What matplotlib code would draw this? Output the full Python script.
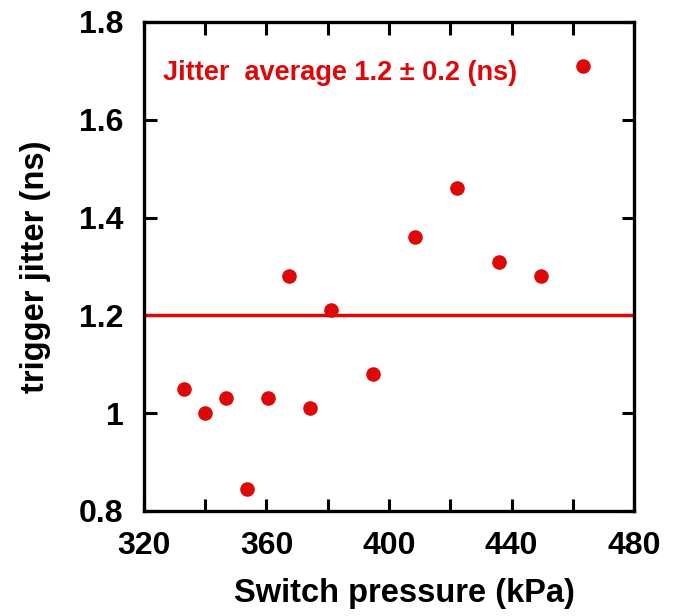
import numpy as np
import matplotlib.pyplot as plt

plt.rcParams["font.family"] = ["Liberation Sans", "DejaVu Sans"]
plt.rcParams["font.weight"] = "bold"

pressure = [333.1, 339.8, 346.7, 353.5, 360.4, 367.2, 374.1, 381.0,
            394.7, 408.4, 422.1, 435.8, 449.5, 463.2]
jitter = [1.05, 1.00, 1.03, 0.844, 1.03, 1.28, 1.01, 1.21,
          1.08, 1.36, 1.46, 1.31, 1.28, 1.71]
avg_jitter = 1.2
red = "#de0808"

fig = plt.figure(figsize=(6.76, 6.16), dpi=100)
ax = fig.add_axes([0.213, 0.1705, 0.7249, 0.794])

ax.axhline(avg_jitter, color=red, lw=2.5, zorder=2)
ax.plot(pressure, jitter, "o", color=red, ms=10.5, mec="none", zorder=3)

ax.text(326.2, 1.696, "Jitter  average 1.2 \u00b1 0.2 (ns)", color=red,
        fontsize=19.5, fontweight="bold", va="center", ha="left")

ax.set_xlim(320, 480)
ax.set_ylim(0.8, 1.8)
ax.set_xticks(np.arange(320, 481, 40))
ax.set_xticks(np.arange(320, 481, 20), minor=True)
ax.set_yticks([0.8, 1.0, 1.2, 1.4, 1.6, 1.8])
ax.set_yticklabels(["0.8", "1", "1.2", "1.4", "1.6", "1.8"])

ax.tick_params(which="both", direction="in", top=True, right=True,
               width=2.2, labelsize=23)
ax.tick_params(which="major", length=9, pad=14.5)
ax.tick_params(which="minor", length=9)
for s in ax.spines.values():
    s.set_linewidth(2.4)

ax.set_xlabel("Switch pressure (kPa)", fontsize=23.5, fontweight="bold", labelpad=12)
ax.xaxis.label.set_x(0.532)
ax.set_ylabel("trigger jitter (ns)", fontsize=23.5, fontweight="bold", labelpad=20)

fig.savefig("out.png", dpi=100)
